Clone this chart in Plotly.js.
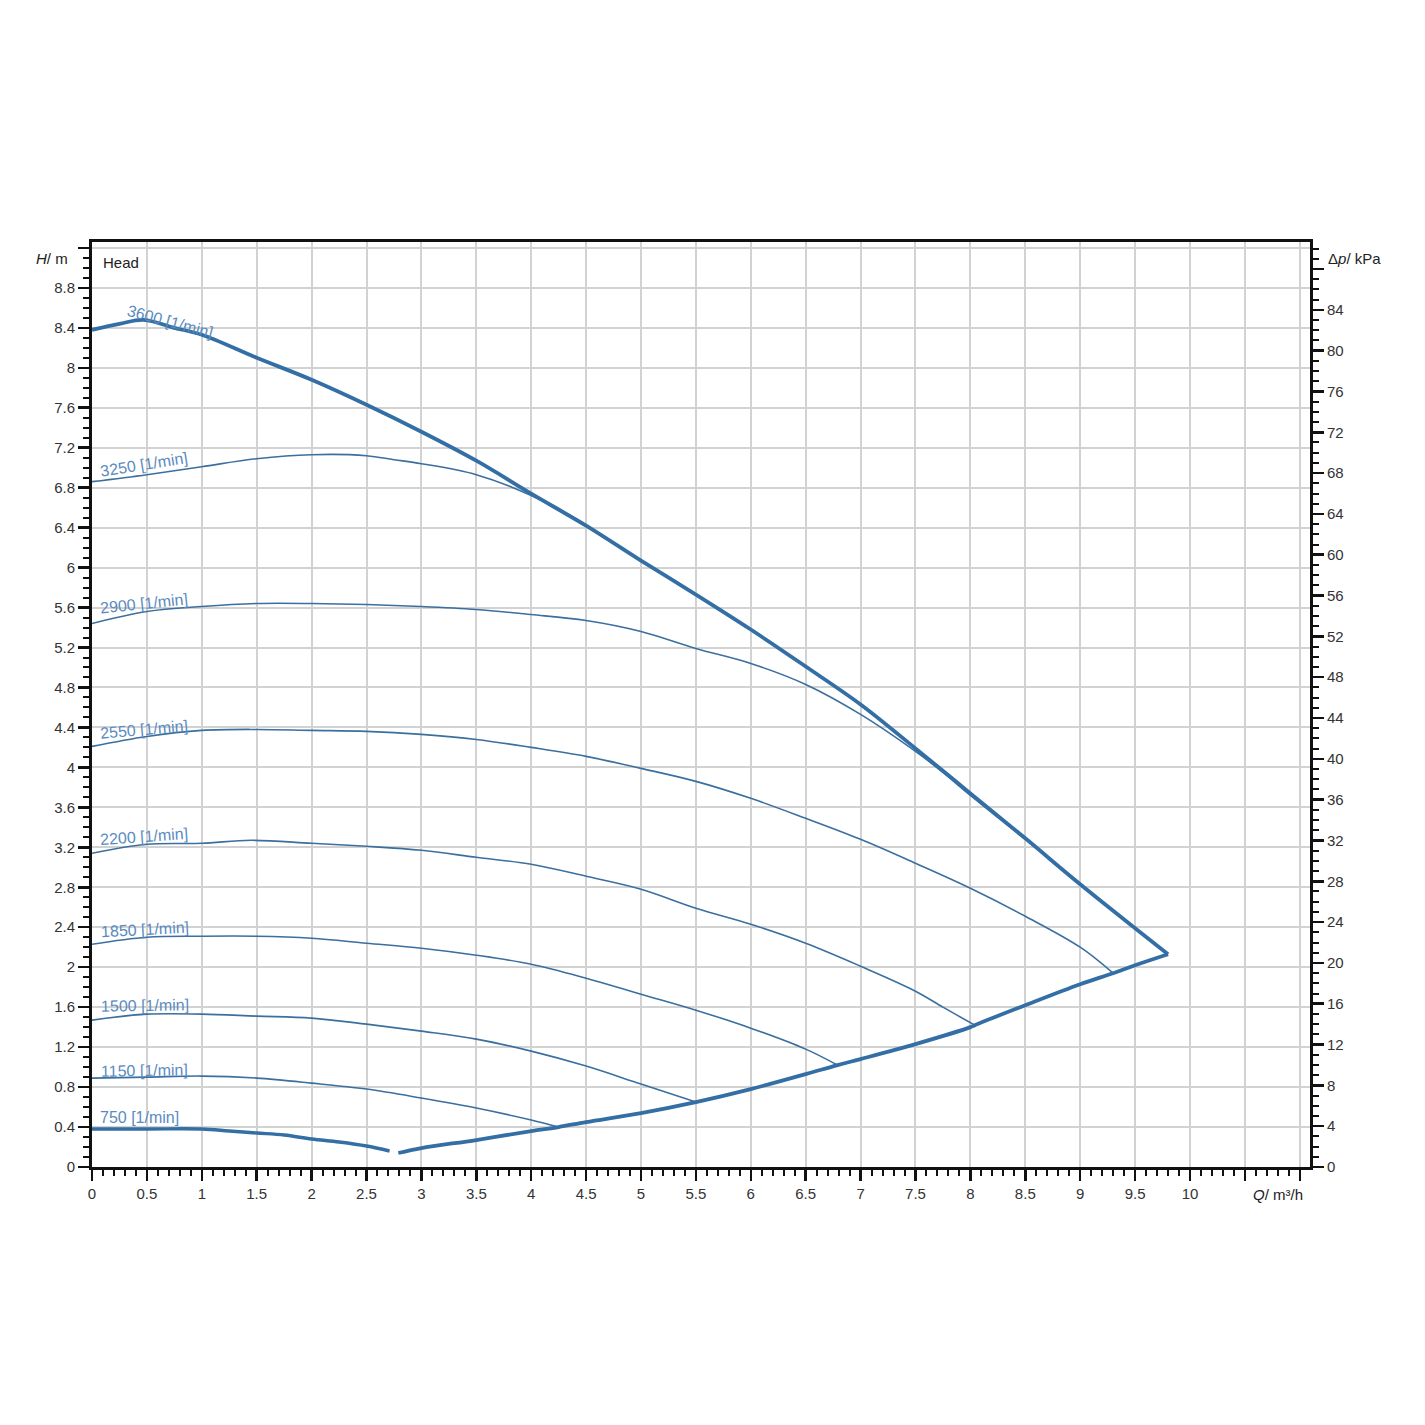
<!DOCTYPE html>
<html>
<head>
<meta charset="utf-8">
<script src="https://cdn.plot.ly/plotly-3.0.1.min.js"></script>
<style>html,body{margin:0;padding:0;background:#fff;}#chart{width:1425px;height:1425px;}</style>
</head>
<body>
<div id="chart"></div>
<script>
// ---- Data ----
const Q_3600 = [0,0.25,0.47,0.75,1,1.5,2,2.5,3,3.5,4,4.5,5,5.5,6,6.5,7,7.5,8,8.5,9,9.5,9.8];
const H_3600 = [8.38,8.44,8.48,8.40,8.33,8.10,7.88,7.63,7.36,7.07,6.74,6.42,6.07,5.73,5.38,5.01,4.63,4.19,3.74,3.29,2.83,2.39,2.13];

const Q_3250 = [0,0.5,1,1.5,2,2.5,2.75,3,3.5,4,4.5];
const H_3250 = [6.86,6.93,7.01,7.09,7.13,7.12,7.08,7.04,6.93,6.72,6.41];

const Q_2900 = [0,0.5,1,1.5,2,2.5,3,3.5,4,4.5,5,5.5,6,6.5,7,7.5,7.75,8,8.5];
const H_2900 = [5.44,5.56,5.61,5.64,5.64,5.63,5.61,5.58,5.53,5.47,5.36,5.19,5.04,4.83,4.53,4.16,3.95,3.72,3.28];

const Q_2550 = [0,0.5,1,1.5,2,2.5,3,3.5,4,4.5,5,5.5,6,6.5,7,7.5,8,8.5,9,9.3];
const H_2550 = [4.21,4.31,4.37,4.38,4.37,4.36,4.33,4.28,4.20,4.11,3.99,3.86,3.69,3.49,3.28,3.04,2.79,2.51,2.20,1.94];

const Q_2200 = [0,0.5,1,1.45,2,2.5,3,3.5,4,4.5,5,5.5,6,6.5,7,7.5,7.75,8.04];
const H_2200 = [3.14,3.23,3.24,3.27,3.24,3.21,3.17,3.10,3.03,2.91,2.78,2.59,2.43,2.24,2.01,1.76,1.60,1.42];

const Q_1850 = [0,0.5,1,1.5,2,2.5,3,3.5,4,4.5,5,5.5,6,6.5,6.79];
const H_1850 = [2.23,2.30,2.31,2.31,2.29,2.24,2.19,2.12,2.03,1.89,1.73,1.57,1.39,1.18,1.02];

const Q_1500 = [0,0.5,1,1.5,2,2.5,3,3.5,4,4.5,5,5.5];
const H_1500 = [1.47,1.53,1.53,1.51,1.49,1.43,1.36,1.28,1.16,1.01,0.83,0.65];

const Q_1150 = [0,0.5,1,1.5,2,2.5,3,3.5,4,4.25];
const H_1150 = [0.89,0.90,0.91,0.89,0.84,0.78,0.69,0.59,0.47,0.40];

const Q_750 = [0,0.5,1,1.25,1.5,1.75,2,2.25,2.5,2.71];
const H_750 = [0.38,0.38,0.38,0.36,0.34,0.32,0.28,0.25,0.21,0.16];

const Q_min = [2.79,3,3.5,4,4.25,4.5,5,5.5,6,6.5,6.79,7,7.5,8,8.04,8.5,9,9.3,9.5,9.8];
const H_min = [0.14,0.19,0.27,0.36,0.40,0.45,0.54,0.65,0.78,0.93,1.02,1.08,1.23,1.40,1.42,1.62,1.83,1.94,2.02,2.13];

const speedLabels = ['3600 [1/min]','3250 [1/min]','2900 [1/min]','2550 [1/min]','2200 [1/min]','1850 [1/min]','1500 [1/min]','1150 [1/min]','750 [1/min]'];

const xTickVals = [0,0.5,1,1.5,2,2.5,3,3.5,4,4.5,5,5.5,6,6.5,7,7.5,8,8.5,9,9.5,10,10.5,11];
const xTickText = ['0','0.5','1','1.5','2','2.5','3','3.5','4','4.5','5','5.5','6','6.5','7','7.5','8','8.5','9','9.5','10','',''];
const yTickVals = [0,0.4,0.8,1.2,1.6,2,2.4,2.8,3.2,3.6,4,4.4,4.8,5.2,5.6,6,6.4,6.8,7.2,7.6,8,8.4,8.8,9.2];
const yTickText = ['0','0.4','0.8','1.2','1.6','2','2.4','2.8','3.2','3.6','4','4.4','4.8','5.2','5.6','6','6.4','6.8','7.2','7.6','8','8.4','8.8',''];
const y2TickVals = [0,4,8,12,16,20,24,28,32,36,40,44,48,52,56,60,64,68,72,76,80,84,88];
const y2TickText = ['0','4','8','12','16','20','24','28','32','36','40','44','48','52','56','60','64','68','72','76','80','84',''];

// ---- Styling ----
const THICK = '#336ea5';
const THIN = '#3a6f9f';
const LABEL = '#5a8bbf';
const FONT = 'Liberation Sans, Arial, sans-serif';
const KPA_PER_M = 9.79;
const X_MAX = 11.093, Y_MAX = 9.259;

function tr(x, y, w, c) {
  return {x: x, y: y, type: 'scatter', mode: 'lines', hoverinfo: 'skip',
          line: {color: c, width: w, shape: 'spline', smoothing: 1.0}, showlegend: false};
}

const data = [
  tr(Q_3250, H_3250, 1.6, THIN),
  tr(Q_2900, H_2900, 1.6, THIN),
  tr(Q_2550, H_2550, 1.6, THIN),
  tr(Q_2200, H_2200, 1.6, THIN),
  tr(Q_1850, H_1850, 1.6, THIN),
  tr(Q_1500, H_1500, 1.6, THIN),
  tr(Q_1150, H_1150, 1.6, THIN),
  tr(Q_750, H_750, 3.4, THICK),
  tr(Q_min, H_min, 3.8, THICK),
  tr(Q_3600, H_3600, 3.8, THICK),
  {x: [0], y: [0], yaxis: 'y2', type: 'scatter', mode: 'markers', marker: {opacity: 0}, showlegend: false, hoverinfo: 'skip'}
];

// label positions (data coords) and angles
const labelPos = [
  [0.71, 8.46, 15], [0.47, 7.03, -9], [0.47, 5.64, -6], [0.47, 4.38, -5],
  [0.47, 3.31, -4], [0.48, 2.38, -3], [0.48, 1.62, -1], [0.48, 0.97, -1], [0.43, 0.50, 0]
];
const annotations = speedLabels.map((t, i) => ({
  text: t, x: labelPos[i][0], y: labelPos[i][1], xref: 'x', yref: 'y',
  showarrow: false, textangle: labelPos[i][2],
  font: {family: FONT, size: 16, color: LABEL}
}));
annotations.push(
  {text: '<i>H</i>/ m', xref: 'paper', yref: 'y', x: -0.018, y: 9.09, xanchor: 'right', yanchor: 'middle', showarrow: false, font: {family: FONT, size: 15, color: '#222'}},
  {text: 'Head', xref: 'x', yref: 'y', x: 0.08, y: 9.05, xanchor: 'left', yanchor: 'middle', showarrow: false, font: {family: FONT, size: 15, color: '#222'}},
  {text: 'Δ<i>p</i>/ kPa', xref: 'paper', yref: 'y', x: 1.013, y: 9.09, xanchor: 'left', yanchor: 'middle', showarrow: false, font: {family: FONT, size: 15, color: '#222'}},
  {text: '<i>Q</i>/ m³/h', xref: 'x', yref: 'paper', x: 10.8, y: 0, xanchor: 'center', yanchor: 'top', yshift: -17, showarrow: false, font: {family: FONT, size: 15, color: '#222'}}
);

const tickFont = {family: FONT, size: 15, color: '#333'};
const layout = {
  width: 1425, height: 1425,
  margin: {l: 92, r: 115, t: 242, b: 258},
  paper_bgcolor: '#fff', plot_bgcolor: '#fff',
  showlegend: false,
  xaxis: {
    range: [0, X_MAX], tickmode: 'array', tickvals: xTickVals, ticktext: xTickText,
    ticks: 'outside', ticklen: 11, tickwidth: 2.5, tickcolor: '#111',
    showline: true, linewidth: 3, linecolor: '#111', mirror: true,
    showgrid: true, gridcolor: '#d2d2d2', gridwidth: 2, zeroline: false,
    tickfont: tickFont,
    minor: {dtick: 0.1, tick0: 0, ticks: 'outside', ticklen: 6, tickwidth: 2, tickcolor: '#111', showgrid: false}
  },
  yaxis: {
    range: [0, Y_MAX], tickmode: 'array', tickvals: yTickVals, ticktext: yTickText,
    ticks: 'outside', ticklen: 11, tickwidth: 2.5, tickcolor: '#111',
    showline: true, linewidth: 3, linecolor: '#111', mirror: true,
    showgrid: true, gridcolor: '#d2d2d2', gridwidth: 2, zeroline: false,
    tickfont: tickFont,
    minor: {dtick: 0.1, tick0: 0, ticks: 'outside', ticklen: 6, tickwidth: 2, tickcolor: '#111', showgrid: false}
  },
  yaxis2: {
    overlaying: 'y', side: 'right', range: [0, Y_MAX * KPA_PER_M],
    tickmode: 'array', tickvals: y2TickVals, ticktext: y2TickText,
    ticks: 'outside', ticklen: 11, tickwidth: 2.5, tickcolor: '#111',
    showline: true, linewidth: 3, linecolor: '#111',
    showgrid: false, zeroline: false, tickfont: tickFont,
    minor: {dtick: 1, tick0: 0, ticks: 'outside', ticklen: 6, tickwidth: 2, tickcolor: '#111', showgrid: false}
  },
  annotations: annotations
};

Plotly.newPlot('chart', data, layout, {displayModeBar: false, staticPlot: true});
</script>
</body>
</html>
